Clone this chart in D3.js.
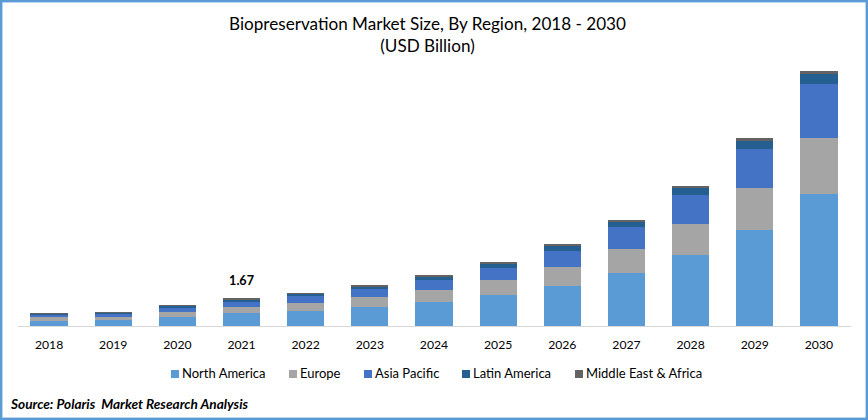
<!DOCTYPE html>
<html>
<head>
<meta charset="utf-8">
<script src="https://cdnjs.cloudflare.com/ajax/libs/d3/7.8.5/d3.min.js"></script>
<style>
html, body { margin: 0; padding: 0; background: #fff; }
svg { display: block; }
text { font-family: Lato, "Open Sans", sans-serif; fill: #000; white-space: pre; }
</style>
</head>
<body>
<script>
var years = ["2018","2019","2020","2021","2022","2023","2024","2025","2026","2027","2028","2029","2030"];
var regions = ["North America","Europe","Asia Pacific","Latin America","Middle East & Africa"];

var northAmerica = [0.30,0.36,0.54,0.78,0.89,1.13,1.43,1.85,2.39,3.16,4.23,5.73,7.87];
var europe       = [0.24,0.18,0.30,0.36,0.48,0.60,0.72,0.89,1.13,1.43,1.85,2.50,3.34];
var asiaPacific  = [0.12,0.18,0.24,0.30,0.42,0.48,0.60,0.72,0.95,1.31,1.73,2.33,3.22];
var latinAmerica = [0.08,0.07,0.12,0.12,0.12,0.12,0.18,0.24,0.30,0.30,0.42,0.48,0.60];
var middleEast   = [0.04,0.05,0.06,0.11,0.06,0.12,0.12,0.12,0.12,0.12,0.12,0.18,0.18];

var labelYear = "2021";
var labelValue = "1.67";

var colors = ["#5b9bd5","#a5a5a5","#4472c4","#255e91","#636363"];

var w = 868, h = 420;

var table = years.map(function(y, i) {
    return {
        year: y,
        "North America": northAmerica[i],
        "Europe": europe[i],
        "Asia Pacific": asiaPacific[i],
        "Latin America": latinAmerica[i],
        "Middle East & Africa": middleEast[i]
    };
});

var stacked = d3.stack().keys(regions)(table);
var maxTotal = d3.max(stacked[stacked.length - 1], function(d) { return d[1]; });

var x = d3.scaleBand().domain(years).range([17, 851]).paddingInner(0.42).paddingOuter(0.21);
var y = d3.scaleLinear().domain([0, maxTotal]).range([326, 71]);
var color = d3.scaleOrdinal().domain(regions).range(colors);

var svg = d3.select("body").append("svg").attr("width", w).attr("height", h);

// frame
svg.append("rect")
    .attr("x", 1.2).attr("y", 1.2)
    .attr("width", w - 2.4).attr("height", h - 2.4)
    .attr("fill", "#fff")
    .attr("stroke", "#5b9bd5")
    .attr("stroke-width", 2.4);

// title
svg.append("text").attr("x", 427.5).attr("y", 30)
    .attr("text-anchor", "middle").style("font-size", "17.1px")
    .text("Biopreservation Market Size, By Region, 2018 - 2030");
svg.append("text").attr("x", 427.5).attr("y", 52)
    .attr("text-anchor", "middle").style("font-size", "17.1px")
    .text("(USD Billion)");

// bars
svg.selectAll("g.layer").data(stacked).enter().append("g")
    .attr("class", "layer")
    .attr("fill", function(d) { return color(d.key); })
    .selectAll("rect").data(function(d) { return d; }).enter().append("rect")
    .attr("x", function(d) { return x(d.data.year); })
    .attr("y", function(d) { return y(d[1]); })
    .attr("width", x.bandwidth())
    .attr("height", function(d) { return y(d[0]) - y(d[1]); })
    .attr("shape-rendering", "crispEdges");

// axis
var axis = svg.append("g")
    .attr("transform", "translate(0,326)")
    .call(d3.axisBottom(x).tickSize(0).tickPadding(14));
axis.select(".domain").attr("stroke", "#d9d9d9").attr("stroke-width", 1.2);
axis.selectAll("text").style("font-size", "12.2px").style("font-family", "Lato, sans-serif").attr("fill", "#000");

// the one value label
var labelTotal = d3.max(stacked[stacked.length - 1].filter(function(d) { return d.data.year == labelYear; }), function(d) { return d[1]; });
svg.append("text")
    .attr("x", x(labelYear) + x.bandwidth() / 2)
    .attr("y", y(labelTotal) - 13)
    .attr("text-anchor", "middle")
    .style("font-size", "12.6px").style("font-weight", "bold")
    .text(labelValue);

// legend
var legendLeft = [171, 289, 364, 462, 575];
var legend = svg.selectAll("g.legend").data(regions).enter().append("g")
    .attr("class", "legend")
    .attr("transform", function(d, i) { return "translate(" + legendLeft[i] + ",370)"; });
legend.append("rect")
    .attr("width", 8).attr("height", 8)
    .attr("fill", function(d) { return color(d); });
legend.append("text")
    .attr("x", 11).attr("y", 8)
    .style("font-size", "13px")
    .text(function(d) { return d; });

// source
svg.append("text").attr("x", 11).attr("y", 409)
    .style("font-size", "13.65px").style("font-weight", "bold").style("font-style", "italic")
    .text("Source: Polaris  Market Research Analysis");
</script>
</body>
</html>
